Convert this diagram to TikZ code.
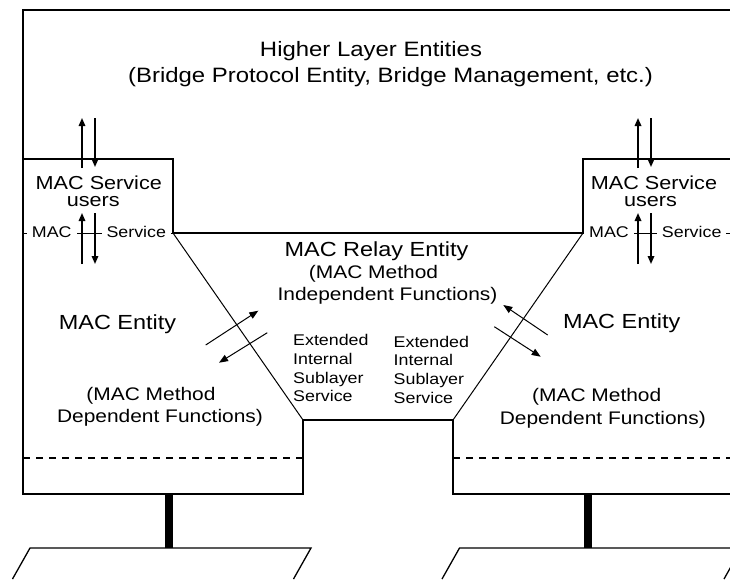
\documentclass[tikz,border=0pt]{standalone}
\usepackage{fontspec}
\setmainfont{Liberation Sans}[FakeStretch=1.15]
\usetikzlibrary{arrows.meta}

\tikzset{
  wall/.style={line width=2pt},
  edge/.style={line width=1pt},
  lan/.style={line width=1.3pt},
  updown/.style={line width=1.6pt,-{Triangle[length=8pt,width=6.5pt]}},
  slant/.style={line width=1pt,-{Triangle[length=9pt,width=7pt]}},
  titletxt/.style={font=\fontsize{20.8}{22}\selectfont,inner sep=0pt},
  bigtxt/.style={font=\fontsize{20.4}{22}\selectfont,inner sep=0pt},
  usertxt/.style={font=\fontsize{18.8}{20}\selectfont,inner sep=0pt},
  midtxt/.style={font=\fontsize{18.2}{20}\selectfont,inner sep=0pt},
  smalltxt/.style={font=\fontsize{15.5}{18.6}\selectfont,inner sep=0pt},
  tagtxt/.style={font=\fontsize{15.5}{17}\selectfont,fill=white,inner xsep=5pt,inner ysep=1pt},
}

\begin{document}
\begin{tikzpicture}[x=1pt,y=-1pt]
\useasboundingbox (0,0) rectangle (730,579);

% MAC service boundary inside the user boxes
\draw[edge] (23,233) -- (173,233);
\draw[edge] (583,233) -- (730,233);
\node[tagtxt,anchor=base] (lmac) at (51.8,237.5) {MAC};
\node[tagtxt,anchor=base] (lsvc) at (136.3,237.5) {Service};
\node[tagtxt,anchor=base] (rmac) at (609,237.5) {MAC};
\node[tagtxt,anchor=base] (rsvc) at (691.7,237.5) {Service};

% outer frame, user boxes and relay notch
\draw[wall] (730,10) -- (23,10) -- (23,494) -- (303,494) -- (303,420) -- (453,420) -- (453,494) -- (730,494);
\draw[wall] (23,159) -- (173,159) -- (173,233) -- (583,233) -- (583,159) -- (730,159);
\draw[edge] (173,233) -- (303,420);
\draw[edge] (583,233) -- (453,420);

% dashed split of the MAC entities
\draw[line width=1.5pt,dash pattern=on 7pt off 6pt] (23,458) -- (303,458);
\draw[line width=1.5pt,dash pattern=on 7pt off 6pt] (453,458) -- (730,458);

% attachments to the LANs
\draw[line width=7.5pt] (169,495) -- (169,548);
\draw[line width=7.5pt] (588,495) -- (588,548);
\draw[lan] (12.5,579) -- (30,548) -- (311,548) -- (293.5,579);
\draw[lan] (442,579) -- (459.5,548) -- (741.5,548) -- (724,579);

% service primitives up and down
\draw[updown] (82,168) -- (82,118);
\draw[updown] (95,118) -- (95,167);
\draw[updown] (82,264) -- (82,213);
\draw[updown] (95,213) -- (95,264);
\draw[updown] (638,168) -- (638,118);
\draw[updown] (651,118) -- (651,167);
\draw[updown] (638,264) -- (638,213);
\draw[updown] (651,213) -- (651,264);

% internal sublayer service
\draw[slant] (205.7,345) -- (258.3,310.7);
\draw[slant] (267.3,332.7) -- (219,362.7);
\draw[slant] (547.7,335) -- (503.3,305);
\draw[slant] (494.3,326.7) -- (540.7,356.7);

\node[titletxt,anchor=base] (higher) at (371,56.7) {Higher Layer Entities};
\node[titletxt,anchor=base] (bridge) at (390.5,82.7) {(Bridge Protocol Entity, Bridge Management, etc.)};

\node[usertxt,anchor=base] (luser) at (98.8,189.5) {MAC Service};
\node[usertxt,anchor=base] (lusers) at (93.3,206.5) {users};
\node[usertxt,anchor=base] (ruser) at (654,189.5) {MAC Service};
\node[usertxt,anchor=base] (rusers) at (650.5,206.5) {users};

\node[bigtxt,anchor=base] (relay) at (376.5,256) {MAC Relay Entity};
\node[midtxt,anchor=base] (relaymeth) at (373.5,278.5) {(MAC Method};
\node[midtxt,anchor=base] (relayfun) at (387.5,300) {Independent Functions)};

\node[bigtxt,anchor=base] (lentity) at (117.5,329) {MAC Entity};
\node[midtxt,anchor=base] (lmeth) at (151,400) {(MAC Method};
\node[midtxt,anchor=base] (lfun) at (160,422.5) {Dependent Functions)};
\node[bigtxt,anchor=base] (rentity) at (621.7,328.5) {MAC Entity};
\node[midtxt,anchor=base] (rmeth) at (596.7,401) {(MAC Method};
\node[midtxt,anchor=base] (rfun) at (602.8,424) {Dependent Functions)};

% last line sits on the base
\node[smalltxt,align=left,anchor=base west] (lext) at (293,401.7) {Extended\\Internal\\Sublayer\\Service};
\node[smalltxt,align=left,anchor=base west] (rext) at (393.5,403) {Extended\\Internal\\Sublayer\\Service};
\end{tikzpicture}
\end{document}
